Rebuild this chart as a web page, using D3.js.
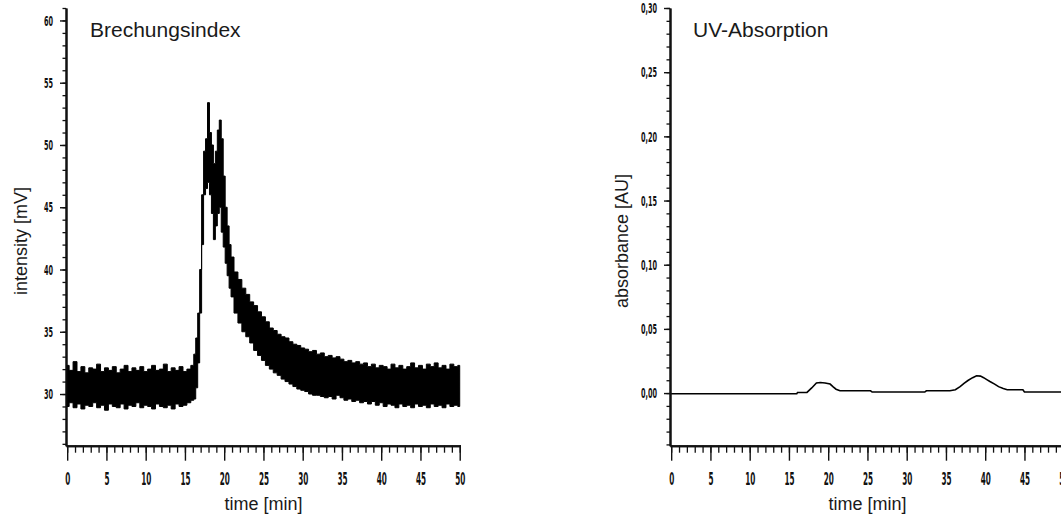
<!DOCTYPE html>
<html>
<head>
<meta charset="utf-8">
<script src="https://cdn.jsdelivr.net/npm/d3@7"></script>
<style>
  body { margin: 0; background: #fff; }
  .title { font-family: "Liberation Sans", Arial, sans-serif; fill: #1a1a1a; }
  .tick text { font-family: "DejaVu Sans Condensed", "DejaVu Sans", sans-serif; font-weight: bold; fill: #111; }
  .domain, .tick line { stroke: #111; }
</style>
</head>
<body>
<script>
(function() {

    // time axis (both panels)
    var xMajor = [0, 5, 10, 15, 20, 25, 30, 35, 40, 45, 50];
    var xTickLabels = ["0", "5", "10", "15", "20", "25", "30", "35", "40", "45", "50"];

    var riTime = [0, 0.5, 1, 1.5, 2, 2.5, 3, 3.5, 4, 4.5, 5, 5.5, 6, 6.5, 7, 7.5, 8, 8.5, 9, 9.5,
        10, 10.5, 11, 11.5, 12, 12.5, 13, 13.5, 14, 14.5, 15, 15.5, 16,
        16.25, 16.5, 16.75, 17, 17.25, 17.5, 17.75, 18, 18.25, 18.5, 18.75, 19, 19.25, 19.5, 19.75,
        20, 20.25, 20.5, 20.75, 21, 21.5, 22, 22.5, 23, 23.5, 24, 24.5, 25, 25.5, 26, 26.5, 27, 27.5,
        28, 28.5, 29, 29.5, 30, 30.5, 31, 31.5, 32, 32.5, 33, 33.5, 34, 34.5, 35, 35.5, 36, 36.5,
        37, 37.5, 38, 38.5, 39, 39.5, 40, 40.5, 41, 41.5, 42, 42.5, 43, 43.5, 44, 44.5, 45, 45.5,
        46, 46.5, 47, 47.5, 48, 48.5, 49, 49.5, 50];
    var riHigh = [32.3, 31.9, 32.6, 31.8, 32.2, 31.7, 32.1, 32.0, 32.4, 31.8, 32.1, 31.9, 32.2, 31.7, 32.0, 32.3, 31.8, 32.1, 31.9, 32.2,
        31.8, 32.0, 32.3, 31.9, 32.0, 32.4, 31.8, 32.1, 31.9, 32.2, 31.8, 32.0, 32.3,
        33.2, 34.5, 36.5, 40.0, 46.0, 49.5, 50.5, 53.4, 51.0, 50.0, 48.5, 49.5, 51.2, 52.0, 50.5,
        47.5, 45.0, 43.5, 42.0, 41.0, 39.8, 39.2, 38.5, 38.0, 37.4, 37.1, 36.6, 36.2, 35.8, 35.3, 35.1, 34.8, 34.6,
        34.5, 34.2, 34.0, 33.9, 33.7, 33.6, 33.4, 33.5, 33.2, 33.3, 33.0, 33.1, 32.9, 33.0, 32.8, 32.6, 32.7, 32.5,
        32.6, 32.4, 32.5, 32.2, 32.4, 32.1, 32.3, 32.2, 32.0, 32.4, 32.1, 32.3, 32.0, 32.2, 32.5, 32.1, 32.3, 32.0,
        32.4, 32.2, 32.5, 32.1, 32.3, 32.0, 32.4, 32.2, 32.3];
    var riLow = [29.0, 29.3, 28.9, 29.2, 28.8, 29.1, 29.0, 29.3, 28.9, 29.1, 28.7, 29.2, 29.0, 28.9, 29.2, 28.8, 29.1, 29.0, 29.3, 28.9,
        29.1, 29.0, 28.8, 29.2, 29.0, 28.9, 29.1, 28.8, 29.2, 29.0, 29.1, 29.3, 29.5,
        29.6, 30.5, 32.5, 36.5, 42.0, 46.0, 46.5, 47.0, 46.0, 44.5, 42.4, 43.5, 44.5, 45.0, 43.0,
        41.8, 40.5, 39.5, 38.5, 37.8, 36.5, 35.7, 35.0, 34.6, 34.1, 33.5, 33.1, 32.7, 32.3, 32.0, 31.7, 31.5, 31.2,
        31.0, 30.8, 30.6, 30.4, 30.3, 30.2, 30.0, 29.9, 29.9, 29.8, 29.7, 29.8, 29.6, 29.9, 29.7, 29.5, 29.6, 29.4,
        29.5, 29.3, 29.4, 29.2, 29.4, 29.1, 29.3, 29.0, 29.2, 29.1, 28.9, 29.2, 29.0, 29.1, 28.9, 29.2, 29.0, 29.1,
        28.9, 29.2, 29.0, 29.1, 28.9, 29.2, 29.0, 29.1, 29.0];
    var riMajor = [30, 35, 40, 45, 50, 55, 60];
    var riTickLabels = ["30", "35", "40", "45", "50", "55", "60"];

    // UV trace
    var uvTime = [0, 16.0, 16.1, 17.3, 17.9, 18.5, 19.0, 19.6, 20.25, 20.6, 21.0, 21.5, 22.5, 25.4, 25.6,
        32.3, 32.5, 35.5, 36.2, 36.8, 37.3, 37.8, 38.4, 38.9, 39.4, 39.8, 40.2, 40.6, 41.2, 41.7,
        42.3, 42.8, 44.8, 45.0, 51];
    var uvAbs = [-0.0005, -0.0005, 0.0005, 0.0005, 0.004, 0.0078, 0.0082, 0.0078, 0.007, 0.005, 0.003, 0.0018, 0.0018, 0.0018, 0.0008,
        0.0008, 0.0018, 0.0018, 0.0026, 0.005, 0.0075, 0.0098, 0.012, 0.0135, 0.0132, 0.012, 0.0105, 0.009, 0.007, 0.005,
        0.0035, 0.0026, 0.0026, 0.0008, 0.0008];
    var uvMajor = [0, 0.05, 0.10, 0.15, 0.20, 0.25, 0.30];
    var uvTickLabels = ["0,00", "0,05", "0,10", "0,15", "0,20", "0,25", "0,30"];

    window.onload = draw();

    function draw() {
        var svg = d3.select("body")
            .append("svg")
            .attr("width", 1061)
            .attr("height", 517);

        var top = 8, bottom = 445.7, plotW = 394.5;

        // left panel
        var x1 = d3.scaleLinear().domain([-0.15, 50.1]).range([66, 66 + plotW]);
        var y1 = d3.scaleLinear().domain([25.85, 61]).range([bottom, top]);
        drawAxes(svg, x1, y1, d3.range(26, 62, 1), riMajor, riTickLabels, 66, bottom);

        var band = d3.area()
            .x(function(d, i){ return x1(riTime[i]); })
            .y0(function(d, i){ return y1(riLow[i]); })
            .y1(function(d, i){ return y1(riHigh[i]); })
            .curve(d3.curveStep);

        svg.append("path")
            .datum(riTime)
            .attr("d", band)
            .attr("fill", "#000")
            .attr("stroke", "#000")
            .attr("stroke-width", 1);

        svg.append("text").attr("class", "title")
            .attr("x", 90).attr("y", 37)
            .style("font-size", "21px")
            .text("Brechungsindex");
        svg.append("text").attr("class", "title")
            .attr("x", x1(25)).attr("y", 510)
            .attr("text-anchor", "middle")
            .style("font-size", "18px")
            .text("time [min]");
        svg.append("text").attr("class", "title")
            .attr("transform", "translate(27,241) rotate(-90)")
            .attr("text-anchor", "middle")
            .style("font-size", "18px")
            .text("intensity [mV]");

        // right panel
        var x2 = d3.scaleLinear().domain([-0.15, 50.1]).range([670, 670 + plotW]);
        var y2 = d3.scaleLinear().domain([-0.041, 0.30]).range([bottom, top]);
        var uvMinor = d3.range(-4, 31, 1).map(function(v){ return v / 100; });
        drawAxes(svg, x2, y2, uvMinor, uvMajor, uvTickLabels, 670, bottom);

        var uvLine = d3.line()
            .x(function(d, i){ return x2(uvTime[i]); })
            .y(function(d, i){ return y2(uvAbs[i]); });

        svg.append("path")
            .datum(uvTime)
            .attr("d", uvLine)
            .attr("fill", "none")
            .attr("stroke", "#000")
            .attr("stroke-width", 1.6);

        svg.append("text").attr("class", "title")
            .attr("x", 693).attr("y", 37)
            .style("font-size", "21px")
            .text("UV-Absorption");
        svg.append("text").attr("class", "title")
            .attr("x", x2(25)).attr("y", 510)
            .attr("text-anchor", "middle")
            .style("font-size", "18px")
            .text("time [min]");
        svg.append("text").attr("class", "title")
            .attr("transform", "translate(628,241) rotate(-90)")
            .attr("text-anchor", "middle")
            .style("font-size", "18px")
            .text("absorbance [AU]");
    }; // draw function

    function drawAxes(svg, x, y, yMinor, yMajor, yLabels, left, bottom) {
        var sx = 0.45, sy = 0.5;

        // minor ticks first
        svg.append("g")
            .attr("transform", "translate(0," + bottom + ")")
            .call(d3.axisBottom(x).tickValues(d3.range(0, 51, 1)).tickSize(7).tickSizeOuter(0).tickFormat(""))
            .selectAll("line").attr("stroke-width", 1.3);
        svg.append("g")
            .attr("transform", "translate(" + left + ",0)")
            .call(d3.axisLeft(y).tickValues(yMinor).tickSize(3.5).tickSizeOuter(0).tickFormat(""))
            .selectAll("line").attr("stroke-width", 1.3);

        var xAxis = svg.append("g")
            .attr("transform", "translate(0," + bottom + ")")
            .call(d3.axisBottom(x).tickValues(xMajor).tickSize(15).tickSizeOuter(0)
                .tickFormat(function(d, i){ return xTickLabels[i]; }));
        xAxis.selectAll("text")
            .attr("y", 27)
            .attr("dy", "0.71em")
            .attr("transform", "scale(" + sx + ",1)")
            .style("font-size", "18px");

        var yAxis = svg.append("g")
            .attr("transform", "translate(" + left + ",0)")
            .call(d3.axisLeft(y).tickValues(yMajor).tickSize(6).tickSizeOuter(0)
                .tickFormat(function(d, i){ return yLabels[i]; }));
        yAxis.selectAll("text")
            .attr("x", -13 / sy)
            .attr("transform", "scale(" + sy + ",1)")
            .style("font-size", "14.5px");

        svg.selectAll(".domain").attr("stroke-width", 2);
        xAxis.selectAll("line").attr("stroke-width", 1.4);
        yAxis.selectAll("line").attr("stroke-width", 1.4);
    }; // drawAxes function

})();
</script>
</body>
</html>
